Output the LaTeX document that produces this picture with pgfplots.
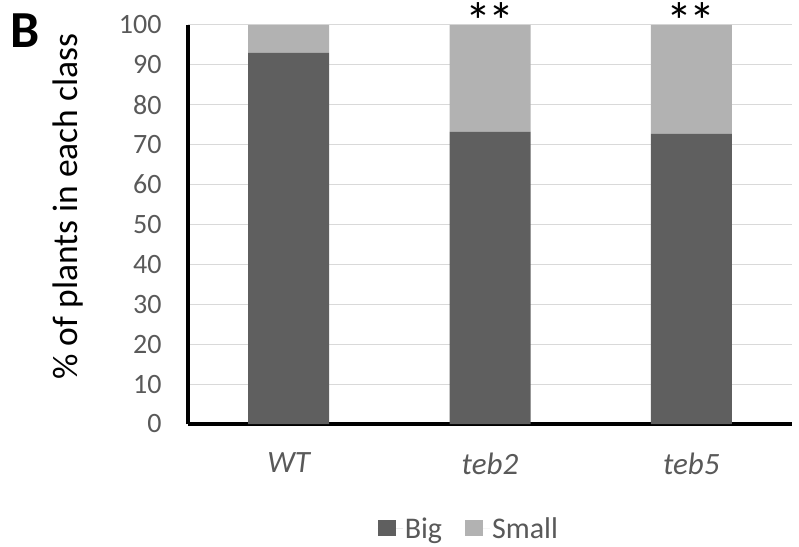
\documentclass[border=0pt]{standalone}
\usepackage{pgfplots}
\pgfplotsset{compat=1.18}
\usepackage{fontspec}
\setmainfont{Carlito}
\definecolor{bigc}{HTML}{5F5F5F}
\definecolor{smallc}{HTML}{B2B2B2}
\definecolor{tickc}{HTML}{595959}
\definecolor{gridc}{HTML}{D9D9D9}
\begin{document}
\begin{tikzpicture}
\useasboundingbox (-188pt,-122pt) rectangle (611pt,424pt);
\begin{axis}[
  at={(0pt,0pt)}, anchor=south west,
  scale only axis, width=604pt, height=399pt,
  ybar stacked, bar width=81pt,
  xmin=-0.5, xmax=2.5, ymin=0, ymax=100,
  xtick={0,1,2}, xticklabels={WT,teb2,teb5},
  ytick={0,10,...,100},
  axis lines*=left,
  axis line style={line width=4.5pt, black},
  major tick length=0pt,
  ymajorgrids, grid style={gridc, line width=1pt},
  /pgf/number format/assume math mode=true,
  yticklabel style={font=\fontsize{28}{28}\selectfont, text=tickc, xshift=-23pt},
  xticklabel style={font=\itshape\fontsize{31}{31}\selectfont, text=tickc, yshift=-25pt},
  ylabel={\% of plants in each class},
  every axis y label/.style={at={(axis description cs:-0.198,0.545)}, rotate=90, anchor=center, font=\fontsize{35.5}{35.5}\selectfont},
  legend style={at={(axis description cs:0.465,-0.263)}, anchor=center, draw=none, legend columns=2, font=\fontsize{30}{30}\selectfont, text=tickc, /tikz/every even column/.append style={column sep=21pt}},
  legend image code/.code={\fill[#1] (0pt,-7pt) rectangle (18pt,9pt); \path (0pt,0pt) -- (25pt,0pt);},
  clip=false,
]
\addplot[fill=bigc, draw=none] coordinates {(0,93.0) (1,73.2) (2,72.7)};
\addplot[fill=smallc, draw=none] coordinates {(0,7.0) (1,26.8) (2,27.3)};
\legend{Big,Small}
\node[font=\fontsize{52}{52}\selectfont, anchor=base, inner sep=0pt, line width=0.6pt, draw=none] at (axis cs:1,100) [yshift=-15pt] {*\kern-3pt*};
\node[font=\fontsize{52}{52}\selectfont, anchor=base, inner sep=0pt, draw=none] at (axis cs:2,100) [yshift=-15pt] {*\kern-3pt*};
\node[font=\bfseries\fontsize{52}{52}\selectfont, anchor=center] at (axis description cs:-0.270,0.986) {B};
\end{axis}
\end{tikzpicture}
\end{document}
